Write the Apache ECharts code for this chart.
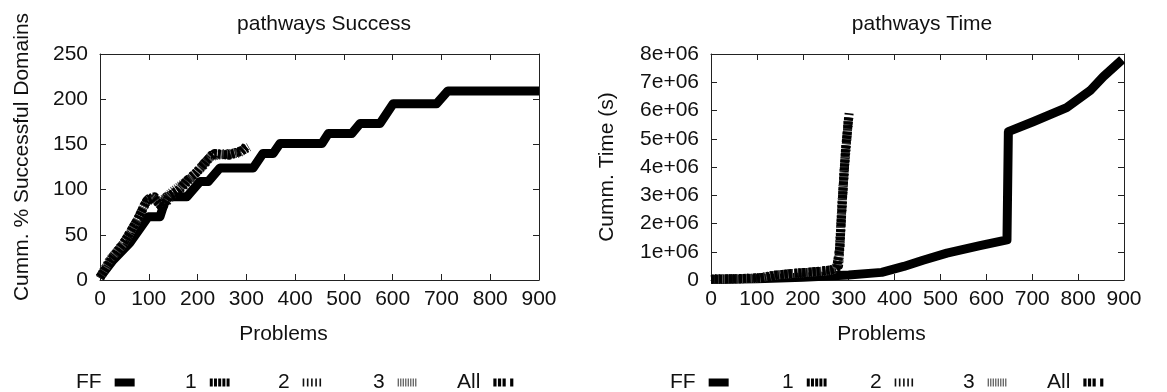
<!DOCTYPE html>
<html><head><meta charset="utf-8">
<script src="https://cdn.jsdelivr.net/npm/echarts@6/dist/echarts.min.js"></script>
<style>html,body{margin:0;padding:0;background:#fff}#c{width:1167px;height:392px}</style>
</head><body><div id="c"></div>
<script>
// ---------- data ----------
const seriesNames = ['FF', '1', '2', '3', 'All'];
const titles = ['pathways Success', 'pathways Time'];
const yNames = ['Cumm. % Successful Domains', 'Cumm. Time (s)'];
const xName = 'Problems';

// Success chart: [problems, cumulative % successful domains]
const successFF = [[0,3],[27,22],[61,41],[99,70],[123,70],[136,92],[178,92],[205,109],[222,109],[246,124],[314,124],[334,140],[355,140],[369,151],[455,151],[468,162],[516,162],[533,173],[574,173],[601,195],[690,195],[713,209],[900,209]];
const success1 = [[0,3],[20,22],[45,38],[70,58],[90,82],[100,90],[112,92],[125,82],[140,92],[155,97],[170,103],[185,112],[200,120],[215,128],[228,138],[260,139],[280,141],[295,144],[305,147]];
const success2 = [[0,2],[25,25],[50,42],[75,65],[95,86],[108,90],[120,88],[135,85],[150,95],[175,108],[195,118],[215,130],[232,139],[270,140],[290,143],[300,146]];
const success3 = [[0,3],[22,24],[48,40],[72,62],[92,84],[105,92],[118,86],[132,90],[148,98],[168,106],[188,114],[208,124],[225,136],[250,139],[285,140],[298,145]];
const successAll = [[0,3],[24,23],[52,44],[78,68],[96,88],[110,91],[128,80],[142,93],[162,100],[180,111],[198,119],[218,132],[235,140],[265,138],[288,142],[300,148]];

// Time chart: [problems, cumulative time (s)]
const timeFF = [[0,20000],[100,40000],[200,100000],[300,180000],[372,270000],[420,480000],[462,700000],[514,950000],[586,1220000],[645,1420000],[648,5250000],[702,5600000],[775,6100000],[826,6700000],[855,7200000],[896,7800000]];
const time1 = [[0,30000],[50,40000],[100,60000],[130,150000],[160,200000],[200,260000],[240,300000],[270,350000],[278,500000],[284,2300000],[290,3800000],[296,5000000],[300,5800000]];
const time2 = [[0,30000],[60,45000],[110,80000],[140,170000],[180,230000],[220,280000],[255,330000],[272,400000],[280,900000],[286,2800000],[292,4300000],[298,5400000],[301,5850000]];
const time3 = [[0,25000],[55,40000],[105,70000],[135,160000],[170,220000],[210,270000],[250,320000],[271,380000],[279,700000],[285,2600000],[291,4100000],[297,5200000],[300,5750000]];
const timeAll = [[0,30000],[65,50000],[115,90000],[145,180000],[190,250000],[230,300000],[262,360000],[274,450000],[281,1200000],[287,3000000],[293,4600000],[299,5600000],[301,5900000]];

const xMin = 0, xMax = 900, xStep = 100;
const successMax = 250, successStep = 50;
const timeMax = 8000000, timeStep = 1000000;

// ---------- styles ----------
const FONT = 'Liberation Sans, Arial, sans-serif';
const FS = 21;
const styleOf = {
  'FF':  { color: '#000', type: 'solid' },
  '1':   { color: '#000', type: [2, 1.5] },
  '2':   { color: '#111', type: [1.5, 2.5] },
  '3':   { color: '#555', type: [1, 1.2] },
  'All': { color: '#000', type: [3, 1, 3, 1, 3, 3] }
};
const iconOf = {
  'FF':  'path://M0,0h20v8h-20z',
  '1':   'path://M0,0h3v8h-3z M4.2,0h3v8h-3z M8.4,0h3v8h-3z M12.6,0h3v8h-3z M16.8,0h3v8h-3z',
  '2':   'path://M0,0h1.6v8h-1.6z M4.2,0h1.6v8h-1.6z M8.4,0h1.6v8h-1.6z M12.6,0h1.6v8h-1.6z M16.8,0h1.6v8h-1.6z M18.4,0h1.6v0.01h-1.6z',
  '3':   'path://M0,0h1.2v8h-1.2z M2.5,0h1.2v8h-1.2z M5,0h1.2v8h-1.2z M7.5,0h1.2v8h-1.2z M10,0h1.2v8h-1.2z M12.5,0h1.2v8h-1.2z M15,0h1.2v8h-1.2z M17.5,0h1.2v8h-1.2z M18.8,0h1.2v0.01h-1.2z',
  'All': 'path://M0,0h3.2v8h-3.2z M4.6,0h3.2v8h-3.2z M9.2,0h3.2v8h-3.2z M16.8,0h3.2v8h-3.2z'
};

const successData = { 'FF': successFF, '1': success1, '2': success2, '3': success3, 'All': successAll };
const timeData = { 'FF': timeFF, '1': time1, '2': time2, '3': time3, 'All': timeAll };

const grids = [
  { left: 100, right: 1167 - 539, top: 54, bottom: 392 - 280 },
  { left: 711, right: 1167 - 1124, top: 54, bottom: 392 - 280 }
];

const lineCfg = { show: true, onZero: false, lineStyle: { color: '#222', width: 1 } };
const tickCfg = { show: true, inside: true, length: 6, lineStyle: { color: '#222', width: 1 } };

function xAxes(gi) {
  return [
    { type: 'value', gridIndex: gi, min: xMin, max: xMax, interval: xStep,
      name: xName, nameLocation: 'middle', nameGap: 44,
      nameTextStyle: { fontFamily: FONT, fontSize: FS, color: '#111', padding: [0, 72, 0, 0] },
      axisLine: lineCfg, axisTick: tickCfg,
      axisLabel: { fontFamily: FONT, fontSize: FS, color: '#111', margin: 9 },
      splitLine: { show: false } },
    { type: 'value', gridIndex: gi, position: 'top', min: xMin, max: xMax, interval: xStep,
      axisLine: lineCfg, axisTick: tickCfg,
      axisLabel: { show: false }, splitLine: { show: false } }
  ];
}
function yAxes(gi, max, step, name, gap, pad, fmt) {
  return [
    { type: 'value', gridIndex: gi, position: 'left', min: 0, max: max, interval: step,
      name: name, nameLocation: 'middle', nameGap: gap, nameRotate: 90,
      nameTextStyle: { fontFamily: FONT, fontSize: FS, color: '#111', padding: pad },
      axisLine: lineCfg, axisTick: tickCfg,
      axisLabel: { fontFamily: FONT, fontSize: FS, color: '#111', margin: 12, formatter: fmt },
      splitLine: { show: false } },
    { type: 'value', gridIndex: gi, position: 'right', min: 0, max: max, interval: step,
      axisLine: lineCfg, axisTick: tickCfg,
      axisLabel: { show: false }, splitLine: { show: false } }
  ];
}

const series = [];
[successData, timeData].forEach((dataSet, gi) => {
  seriesNames.forEach(n => {
    series.push({
      name: n, type: 'line', xAxisIndex: gi * 2, yAxisIndex: gi * 2,
      data: dataSet[n], symbol: 'none', smooth: false, silent: true,
      z: n === 'FF' ? 2 : 3,
      itemStyle: { color: styleOf[n].color },
      lineStyle: { color: styleOf[n].color, width: 9, type: styleOf[n].type, cap: 'butt', join: 'round' }
    });
  });
});

// legend item left positions (text start) for each chart
const legendLeft = [
  [76, 185, 278, 373, 457],
  [670, 782, 870, 963, 1047]
];
const legends = [];
legendLeft.forEach(row => {
  row.forEach((lx, i) => {
    const n = seriesNames[i];
    legends.push({
      left: lx, top: 372, padding: 0, orient: 'horizontal', align: 'right',
      itemWidth: 20, itemHeight: 8, itemGap: 0, selectedMode: false,
      data: [{ name: n, icon: iconOf[n], itemStyle: { color: styleOf[n].color, borderWidth: 0 } }],
      textStyle: { fontFamily: FONT, fontSize: FS, color: '#111', padding: [0, 8, 0, 0] }
    });
  });
});

const option = {
  backgroundColor: '#fff',
  animation: false,
  title: [
    { text: titles[0], left: 319, top: 9, textAlign: 'center', textStyle: { fontFamily: FONT, fontSize: FS, fontWeight: 'normal', color: '#111' } },
    { text: titles[1], left: 917, top: 9, textAlign: 'center', textStyle: { fontFamily: FONT, fontSize: FS, fontWeight: 'normal', color: '#111' } }
  ],
  grid: grids,
  xAxis: [...xAxes(0), ...xAxes(1)],
  yAxis: [
    ...yAxes(0, successMax, successStep, yNames[0], 67, [0, 0, 0, 20], v => String(v)),
    ...yAxes(1, timeMax, timeStep, yNames[1], 93, [0, 0, 0, 0], v => v === 0 ? '0' : (v / 1e6) + 'e+06')
  ],
  legend: legends,
  series: series
};

const chart = echarts.init(document.getElementById('c'), null, { renderer: 'canvas' });
chart.setOption(option);
</script>
</body></html>
